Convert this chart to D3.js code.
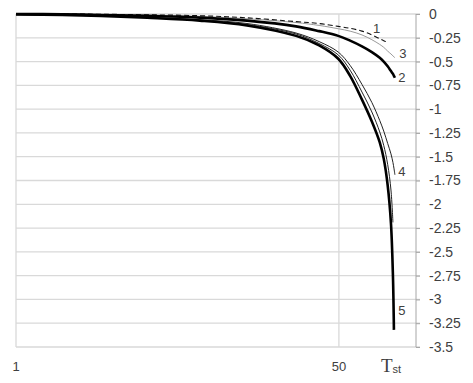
<!DOCTYPE html>
<html>
<head>
<meta charset="utf-8">
<script src="https://cdn.jsdelivr.net/npm/d3@7"></script>
<style>
  body { margin: 0; background: #fff; }
  text { font-family: "Liberation Sans", Arial, sans-serif; fill: #404040; }
</style>
</head>
<body>
<svg id="chart" width="473" height="383"></svg>
<script>
// T values (category position along x)
const tSteps = [1, 8, 13.9, 20.9, 28.9, 36.05, 43.5, 47, 49.9, 51.7, 53.5, 55, 56.2, 56.8, 57.4, 57.9, 58.2, 58.35, 58.5];

// curve values, null where a curve has already ended
const curve1 = [0, 0, -0.003, -0.008, -0.018, -0.04, -0.08, -0.1, -0.13, -0.15, -0.18, -0.22, -0.26, -0.28, -0.3, null, null, null, null];
const curve2 = [0, -0.003, -0.01, -0.02, -0.038, -0.07, -0.13, -0.18, -0.23, -0.28, -0.34, -0.4, -0.46, -0.5, -0.55, -0.6, -0.63, -0.65, -0.67];
const curve3 = [0, 0, -0.005, -0.012, -0.025, -0.05, -0.09, -0.12, -0.155, -0.18, -0.22, -0.27, -0.32, -0.35, -0.39, -0.42, -0.44, -0.45, -0.46];
const curve4a = [-0.005, -0.01, -0.02, -0.035, -0.06, -0.1, -0.2, -0.29, -0.4, -0.54, -0.74, -0.93, -1.12, -1.23, -1.36, -1.47, -1.56, -1.62, -1.69];
const curve4b = [-0.005, -0.01, -0.02, -0.038, -0.065, -0.11, -0.21, -0.31, -0.43, -0.59, -0.82, -1.03, -1.24, -1.38, -1.58, -1.85, -2.19, null, null];
const curve5 = [-0.005, -0.01, -0.02, -0.04, -0.07, -0.12, -0.23, -0.33, -0.47, -0.65, -0.9, -1.13, -1.35, -1.52, -1.8, -2.2, -2.75, -3.32, null];

const xTicks = [1, 50];
const yTicks = d3.range(0, -3.5001, -0.25);

const svg = d3.select("#chart");

const x = d3.scaleLinear().domain([1, 61.7]).range([16, 416]);
const y = d3.scaleLinear().domain([-3.5, 0]).range([347, 14]);

// horizontal gridlines
svg.append("g")
  .selectAll("line")
  .data(yTicks)
  .join("line")
  .attr("x1", x(1))
  .attr("x2", 420)
  .attr("y1", d => y(d))
  .attr("y2", d => y(d))
  .attr("stroke", "#d9d9d9")
  .attr("stroke-width", 1.3);

// vertical gridlines at the labelled categories
svg.append("g")
  .selectAll("line")
  .data(xTicks)
  .join("line")
  .attr("x1", d => x(d))
  .attr("x2", d => x(d))
  .attr("y1", y(0))
  .attr("y2", y(-3.5))
  .attr("stroke", "#d9d9d9")
  .attr("stroke-width", 1.3);

// right-hand value axis
const yAxis = svg.append("g")
  .attr("transform", "translate(416,0)")
  .call(d3.axisRight(y).tickValues(yTicks).tickSize(4).tickPadding(9)
    .tickFormat(d => d === 0 ? "0" : String(+d.toFixed(2))));
yAxis.select(".domain").attr("stroke", "#a6a6a6").attr("d", `M0,${y(0)}V${y(-3.5)}`);
yAxis.selectAll(".tick line").attr("stroke", "#a6a6a6");
yAxis.selectAll("text")
  .style("font-family", "Liberation Sans, Arial, sans-serif")
  .style("font-size", "14px")
  .attr("fill", "#404040");

// x labels
svg.append("g")
  .selectAll("text")
  .data(xTicks)
  .join("text")
  .attr("x", d => x(d))
  .attr("y", 371)
  .attr("text-anchor", "middle")
  .style("font-size", "13px")
  .text(d => d);

const tLabel = svg.append("text").attr("x", 381).attr("y", 372);
tLabel.append("tspan")
  .style("font-family", "Liberation Serif, Times New Roman, serif")
  .style("font-size", "19px")
  .text("T");
tLabel.append("tspan")
  .attr("dy", 1)
  .style("font-size", "11px")
  .text("st");

// curves
const series = [
  { name: "3", values: curve3, color: "#9a9a9a", width: 1, dash: null },
  { name: "1", values: curve1, color: "#111", width: 1.1, dash: "5,3" },
  { name: "2", values: curve2, color: "#000", width: 2.6, dash: null },
  { name: "4", values: curve4a, color: "#222", width: 1, dash: null },
  { name: "", values: curve4b, color: "#222", width: 1, dash: null },
  { name: "5", values: curve5, color: "#000", width: 2.6, dash: null }
];

const line = d3.line()
  .defined(d => d.v !== null)
  .x(d => x(d.t))
  .y(d => y(d.v))
  .curve(d3.curveCatmullRom.alpha(0.5));

svg.append("g")
  .selectAll("path")
  .data(series)
  .join("path")
  .attr("d", s => line(s.values.map((v, i) => ({ t: tSteps[i], v }))))
  .attr("fill", "none")
  .attr("stroke", s => s.color)
  .attr("stroke-width", s => s.width)
  .attr("stroke-dasharray", s => s.dash);

// curve numbers near their ends
const labelOffsets = { "1": [-11, -14], "2": [7, 0], "3": [8, -4], "4": [7, -3], "5": [8, -19] };
const lastIndex = s => d3.max(s.values.map((v, j) => v !== null ? j : -1));
svg.append("g")
  .selectAll("text")
  .data(series.filter(s => s.name))
  .join("text")
  .attr("x", s => x(tSteps[lastIndex(s)]) + labelOffsets[s.name][0])
  .attr("y", s => y(s.values[lastIndex(s)]) + labelOffsets[s.name][1])
  .attr("dy", "0.35em")
  .attr("text-anchor", "middle")
  .style("font-size", "13px")
  .text(s => s.name);
</script>
</body>
</html>
